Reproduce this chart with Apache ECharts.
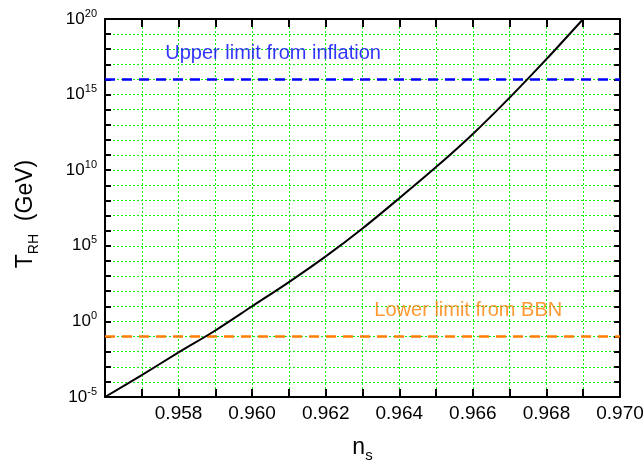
<!DOCTYPE html>
<html>
<head>
<meta charset="utf-8">
<script src="https://cdn.jsdelivr.net/npm/echarts@6/dist/echarts.min.js"></script>
<style>
html,body{margin:0;padding:0;background:#fff;}
#chart{width:644px;height:466px;}
</style>
</head>
<body>
<div id="chart"></div>
<script>
// spectral index n_s
var ns = [0.956, 0.957, 0.958, 0.959, 0.960, 0.961, 0.962, 0.963, 0.964, 0.965, 0.966, 0.967, 0.968, 0.969];
// reheating temperature T_RH (GeV)
var tRH = [1e-5, 2.8e-4, 8.9e-3, 2.5e-1, 1.0e1, 4.0e2, 2.0e4, 1.4e6, 1.4e8, 1.6e10, 2.5e12, 6.3e14, 2.2e17, 1e20];
// horizontal limits
var limitX = [0.956, 0.970];
var upperLimit = [1e16, 1e16];
var lowerLimit = [1e-1, 1e-1];
// annotation texts and their data anchor points
var upperText = 'Upper limit from inflation';
var upperTextAt = [0.96057, 5.6e17];
var lowerText = 'Lower limit from BBN';
var lowerTextAt = [0.965875, 5.1];
// axis settings
var xMin = 0.956, xMax = 0.970, xStep = 0.001;
var yMin = 1e-5, yMax = 1e20;

var FONT = 'Liberation Sans, Arial, Helvetica, sans-serif';
var GRID_COLOR = '#11ee11';

function pairs(xs, ys) { return xs.map(function (x, i) { return [x, ys[i]]; }); }

var chart = echarts.init(document.getElementById('chart'), null, {renderer: 'canvas'});

var splitLineStyle = {show: true, lineStyle: {color: GRID_COLOR, type: [2, 2], width: 1}};
var axisLineStyle = {show: true, onZero: false, lineStyle: {color: '#000', width: 2}};

var option = {
  backgroundColor: '#fff',
  animation: false,
  textStyle: {fontFamily: FONT},
  grid: {left: 105, right: 24, top: 19, bottom: 69, containLabel: false, outerBoundsMode: 'none'},
  xAxis: [{
    type: 'value', position: 'bottom', min: xMin, max: xMax, interval: xStep,
    axisLine: axisLineStyle,
    axisTick: {show: true, inside: true, length: 8, lineStyle: {color: '#000', width: 2}},
    splitLine: splitLineStyle,
    axisLabel: {
      fontSize: 19, color: '#000', margin: 7, fontFamily: FONT,
      formatter: function (v) {
        var k = Math.round(v * 1000);
        if (k % 2 !== 0 || k <= 956) return '';
        return v.toFixed(3);
      }
    },
    name: '{n|n}{s|s}', nameLocation: 'middle', nameGap: 36,
    nameTextStyle: {
      fontFamily: FONT, color: '#000',
      rich: {
        n: {fontSize: 23, fontFamily: FONT, color: '#000', lineHeight: 30, verticalAlign: 'middle'},
        s: {fontSize: 15, fontFamily: FONT, color: '#000', verticalAlign: 'bottom', lineHeight: 15}
      }
    }
  }, {
    type: 'value', position: 'top', min: xMin, max: xMax, interval: xStep,
    axisLine: axisLineStyle,
    axisTick: {show: true, inside: true, length: 8, lineStyle: {color: '#000', width: 2}},
    axisLabel: {show: false},
    splitLine: {show: false}
  }],
  yAxis: [{
    type: 'log', logBase: 10, position: 'left', min: yMin, max: yMax, interval: 1,
    axisLine: axisLineStyle,
    axisTick: {show: true, inside: true, length: 6, lineStyle: {color: '#000', width: 2}},
    splitLine: splitLineStyle,
    axisLabel: {
      color: '#000', margin: 8, fontFamily: FONT,
      formatter: function (v) {
        var e = Math.round(Math.log(v) / Math.LN10);
        if (e % 5 !== 0) return '';
        return '{b|10}{s|' + e + '}';
      },
      rich: {
        b: {fontSize: 17, lineHeight: 22, fontFamily: FONT, color: '#000', verticalAlign: 'middle'},
        s: {fontSize: 11, lineHeight: 11, fontFamily: FONT, color: '#000', verticalAlign: 'top'}
      }
    },
    name: '{t|T}{r|RH}{t|  (GeV)}', nameLocation: 'middle', nameGap: 64, nameRotate: 90,
    nameTextStyle: {
      fontFamily: FONT, color: '#000', padding: [0, 12, 0, 0],
      rich: {
        t: {fontSize: 23, fontFamily: FONT, color: '#000', lineHeight: 30, verticalAlign: 'middle'},
        r: {fontSize: 14, fontFamily: FONT, color: '#000', verticalAlign: 'bottom', lineHeight: 14}
      }
    }
  }, {
    type: 'log', logBase: 10, position: 'right', min: yMin, max: yMax, interval: 1,
    axisLine: axisLineStyle,
    axisTick: {show: true, inside: true, length: 6, lineStyle: {color: '#000', width: 2}},
    axisLabel: {show: false},
    splitLine: {show: false}
  }],
  series: [{
    type: 'line', name: 'upper', data: pairs(limitX, upperLimit), symbol: 'none',
    lineStyle: {color: '#0000ff', width: 2.5, type: [10, 7]}, z: 3
  }, {
    type: 'line', name: 'lower', data: pairs(limitX, lowerLimit), symbol: 'none',
    lineStyle: {color: '#ff8000', width: 2.5, type: [10, 7]}, z: 3
  }, {
    type: 'line', name: 'TRH', data: pairs(ns, tRH), symbol: 'none', smooth: 0.3,
    lineStyle: {color: '#000', width: 2}, z: 4
  }, {
    type: 'scatter', name: 'upperText', data: [upperTextAt], symbolSize: 1,
    itemStyle: {color: 'rgba(0,0,0,0)'}, silent: true,
    label: {show: true, position: 'inside', formatter: upperText, color: '#0000ff', fontSize: 20, fontFamily: FONT}
  }, {
    type: 'scatter', name: 'lowerText', data: [lowerTextAt], symbolSize: 1,
    itemStyle: {color: 'rgba(0,0,0,0)'}, silent: true,
    label: {show: true, position: 'inside', formatter: lowerText, color: '#ff8000', fontSize: 20, fontFamily: FONT}
  }]
};
chart.setOption(option);
</script>
</body>
</html>
